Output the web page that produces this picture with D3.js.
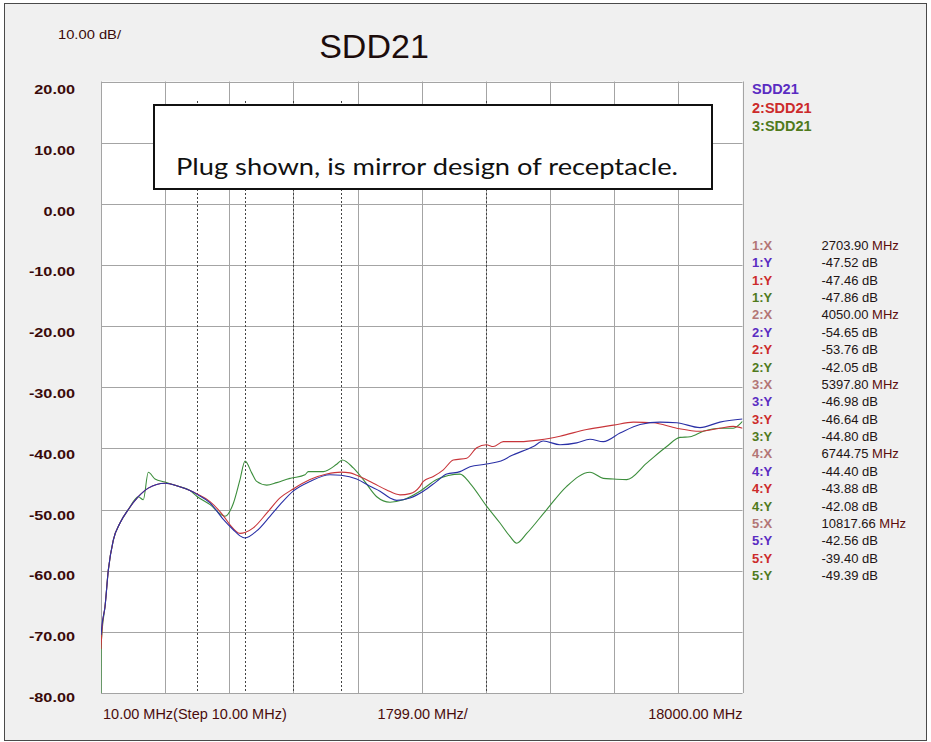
<!DOCTYPE html>
<html>
<head>
<meta charset="utf-8">
<script src="https://cdn.jsdelivr.net/npm/d3@7"></script>
<style>
  body { margin: 0; background: #fff; }
  svg { display: block; }
</style>
</head>
<body>
<svg id="chart"></svg>
<script>
// ─── Data ──────────────────────────────────────────────────────────────────
const freqTicks = [10, 1809, 3608, 5407, 7206, 9005, 10804, 12603, 14402, 16201, 18000];
const dbTicks   = [20, 10, 0, -10, -20, -30, -40, -50, -60, -70, -80];
const dbLabels  = dbTicks.map(v => v.toFixed(2));
const xLabels   = ["10.00 MHz(Step 10.00 MHz)", "1799.00 MHz/", "18000.00 MHz"];

const seriesNames = ["SDD21", "2:SDD21", "3:SDD21"];

// [MHz, dB]
const sdd21 = [
  [10,-70.5],[46,-68.5],[122,-65.9],[215,-59.9],[355,-55],[543,-52.2],[776,-50],[1056,-47.9],
  [1336,-46.5],[1805,-45.7],[2178,-46.2],[2506,-46.9],[2704,-47.52],[3067,-48.9],[3440,-51.6],
  [3720,-53.3],[3908,-54.3],[4050,-54.65],[4376,-53.5],[4749,-51.1],[5030,-49.2],[5398,-46.98],
  [5871,-45.4],[6432,-44.3],[6745,-44.40],[7181,-45.0],[7554,-46.2],[7834,-47.0],[8115,-48.1],
  [8302,-48.5],[8676,-48.1],[9049,-47.0],[9424,-45.4],[9705,-44.2],[10078,-43.8],[10358,-43.0],
  [10818,-42.56],[11292,-41.9],[11480,-41.3],[12134,-39.7],[12414,-38.8],[12882,-39.4],[13350,-39.1],
  [13723,-38.5],[14097,-38.9],[14565,-37.5],[15128,-36.1],[15686,-35.7],[16155,-35.8],[16808,-36.6],
  [17366,-35.7],[18000,-35.2]
];
const sdd21b = [
  [10,-72.8],[46,-69],[122,-65.9],[215,-59.9],[355,-55],[543,-52.2],[776,-50],[1056,-47.9],
  [1336,-46.5],[1805,-45.7],[2178,-46.2],[2506,-46.9],[2704,-47.46],[3067,-48.7],[3440,-51.0],
  [3628,-52.5],[3908,-53.9],[4050,-53.76],[4281,-53.0],[4657,-50.6],[5030,-48.1],[5398,-46.64],
  [5871,-45.1],[6339,-44.2],[6745,-43.88],[6993,-44.0],[7181,-44.4],[7647,-45.7],[8022,-46.8],
  [8395,-47.6],[8676,-47.4],[8956,-46.2],[9049,-45.4],[9329,-44.6],[9610,-43.5],[9890,-41.9],
  [10266,-41.6],[10546,-39.9],[10818,-39.40],[11011,-39.7],[11292,-38.9],[11761,-38.9],[12321,-38.6],
  [12882,-38.0],[13631,-36.9],[14378,-36.2],[14940,-35.7],[15498,-35.8],[16155,-36.7],[16808,-37.2],
  [17366,-36.7],[17740,-36.4],[18000,-36.7]
];
const sdd21c = [
  [10,-80],[14,-72.5],[46,-69.5],[122,-65.9],[215,-59.9],[355,-55],[543,-52.2],[776,-50],[1056,-47.9],
  [1196,-48.4],[1336,-43.9],[1524,-45.0],[1805,-45.5],[2178,-46.2],[2506,-46.9],[2704,-47.86],
  [3067,-49.2],[3487,-51.1],[3720,-49.0],[3908,-45.1],[4050,-42.05],[4236,-44.0],[4376,-45.4],
  [4657,-46.0],[4937,-45.6],[5310,-44.9],[5398,-44.80],[5731,-44.3],[5823,-43.8],[6244,-43.8],
  [6620,-42.6],[6780,-41.9],[7086,-43.2],[7366,-45.1],[7742,-47.9],[8115,-48.8],[8488,-48.4],
  [8956,-47.0],[9424,-45.1],[10078,-44.2],[10358,-45.7],[10818,-49.39],[11199,-52.2],[11480,-54.4],
  [11668,-55.5],[11949,-53.9],[12509,-50.0],[13070,-46.2],[13723,-43.9],[14097,-44.9],[14378,-45.0],
  [14753,-45.1],[15314,-42.4],[15874,-39.7],[16247,-38.2],[16528,-38.1],[16901,-37.2],[17366,-36.7],
  [17740,-36.7],[18000,-35.6]
];

const markerFreq = [2703.90, 4050.00, 5397.80, 6744.75, 10817.66];
const markerDb = [
  [-47.52, -47.46, -47.86],
  [-54.65, -53.76, -42.05],
  [-46.98, -46.64, -44.80],
  [-44.40, -43.88, -42.08],
  [-42.56, -39.40, -49.39]
];

const note = "Plug shown, is mirror design of receptacle.";

// ─── Layout / style ────────────────────────────────────────────────────────
const W = 931, H = 742;
const PLOT = { left: 101, right: 742.5, top: 81.5, bottom: 693 };
const TRACE_COLOR  = ["#2a30a6", "#c8353a", "#3c8e3c"];
const LEGEND_COLOR = ["#5a2cc2", "#cc2a2a", "#4f7a1c"];
const X_ROW_COLOR  = "#b37676";
const TEXT_DARK    = "#3a0a0a";
const FONT = "'Liberation Sans', Arial, sans-serif";

const x = d3.scaleLinear().domain([10, 18000]).range([PLOT.left, PLOT.right]);
const y = d3.scaleLinear().domain([-80, 20]).range([PLOT.bottom, PLOT.top]);
// the dB labels sit on a slightly tighter pitch than the grid
const yLabel = d3.scaleLinear().domain([20, -80]).range([94, 702]);

// ─── SVG ───────────────────────────────────────────────────────────────────
const svg = d3.select("#chart").attr("width", W).attr("height", H)
  .style("font-family", FONT);

svg.append("rect").attr("x", 0).attr("y", 0).attr("width", W).attr("height", H).attr("fill", "#fff");
svg.append("rect").attr("x", 4.5).attr("y", 3.5).attr("width", 922).attr("height", 737)
  .attr("fill", "#f0f0f0").attr("stroke", "#4a4a4a").attr("stroke-width", 1);

svg.append("defs").append("clipPath").attr("id", "clip")
  .append("rect").attr("x", PLOT.left).attr("y", PLOT.top)
  .attr("width", PLOT.right - PLOT.left).attr("height", PLOT.bottom - PLOT.top);

// plot background
svg.append("rect")
  .attr("x", PLOT.left).attr("y", PLOT.top)
  .attr("width", PLOT.right - PLOT.left).attr("height", PLOT.bottom - PLOT.top)
  .attr("fill", "#fff");

// ── Grid ───────────────────────────────────────────────────────────────────
const grid = svg.append("g").attr("stroke", "#a4a4a4").attr("stroke-width", 1);
grid.selectAll("line.v").data(freqTicks).join("line").attr("class", "v")
  .attr("x1", d => Math.round(x(d)) + 0.5).attr("x2", d => Math.round(x(d)) + 0.5)
  .attr("y1", PLOT.top).attr("y2", PLOT.bottom);
grid.selectAll("line.h").data(dbTicks).join("line").attr("class", "h")
  .attr("x1", PLOT.left).attr("x2", PLOT.right)
  .attr("y1", d => Math.round(y(d)) + 0.5).attr("y2", d => Math.round(y(d)) + 0.5);

// ── Marker lines ───────────────────────────────────────────────────────────
svg.append("g").selectAll("line").data(markerFreq).join("line")
  .attr("x1", d => Math.round(x(d)) + 0.5).attr("x2", d => Math.round(x(d)) + 0.5)
  .attr("y1", 101).attr("y2", PLOT.bottom)
  .attr("stroke", "#444").attr("stroke-width", 1).attr("stroke-dasharray", "2,2");

// ── Traces ─────────────────────────────────────────────────────────────────
const line = d3.line().x(d => x(d[0])).y(d => y(d[1])).curve(d3.curveMonotoneX);
svg.append("g").attr("clip-path", "url(#clip)")
  .selectAll("path").data([sdd21c, sdd21b, sdd21]).join("path")
  .attr("d", line)
  .attr("fill", "none")
  .attr("stroke", (d, i) => TRACE_COLOR[2 - i])
  .attr("stroke-width", 1.1);

// ── Y labels ───────────────────────────────────────────────────────────────
svg.append("g").selectAll("text").data(dbTicks).join("text")
  .attr("x", 75).attr("y", d => yLabel(d))
  .attr("text-anchor", "end")
  .attr("font-size", "12.5px").attr("font-weight", "700")
  .attr("fill", TEXT_DARK)
  .text((d, i) => dbLabels[i])
  .each(function () {
    const w = this.getComputedTextLength();
    this.setAttribute("textLength", (w * 1.3).toFixed(1));
    this.setAttribute("lengthAdjust", "spacingAndGlyphs");
  });

svg.append("text").attr("x", 58).attr("y", 39)
  .attr("font-size", "12.5px").attr("fill", TEXT_DARK).text("10.00 dB/")
  .each(function () {
    this.setAttribute("textLength", 63);
    this.setAttribute("lengthAdjust", "spacingAndGlyphs");
  });

// ── X labels ───────────────────────────────────────────────────────────────
const xl = svg.append("g").attr("font-size", "14.5px").attr("fill", "#4a0c0c");
xl.append("text").attr("x", x(10) + 2).attr("y", 719).text(xLabels[0]);
xl.append("text").attr("x", x(9005) + 1).attr("y", 719).attr("text-anchor", "middle").text(xLabels[1]);
xl.append("text").attr("x", x(18000)).attr("y", 719).attr("text-anchor", "end").text(xLabels[2]);

// ── Title ──────────────────────────────────────────────────────────────────
svg.append("text").attr("x", 374).attr("y", 58).attr("text-anchor", "middle")
  .attr("font-size", "34px").attr("fill", "#1c0c0c").text("SDD21");

// ── Legend ─────────────────────────────────────────────────────────────────
svg.append("g").selectAll("text").data(seriesNames).join("text")
  .attr("x", 752).attr("y", (d, i) => 94 + i * 18.7)
  .attr("font-size", "14.5px").attr("font-weight", "700")
  .attr("fill", (d, i) => LEGEND_COLOR[i])
  .text(d => d);

// ── Marker table ───────────────────────────────────────────────────────────
const rows = [];
markerFreq.forEach((f, m) => {
  rows.push({ label: `${m + 1}:X`, color: X_ROW_COLOR, num: f.toFixed(2), unit: "MHz" });
  markerDb[m].forEach((v, s) => {
    rows.push({ label: `${m + 1}:Y`, color: LEGEND_COLOR[s], num: v.toFixed(2), unit: "dB" });
  });
});

const table = svg.append("g").attr("font-size", "13px");
const rowG = table.selectAll("g").data(rows).join("g")
  .attr("transform", (d, i) => `translate(0,${250 + i * 17.37})`);
rowG.append("text").attr("x", 752).attr("font-weight", "700")
  .attr("fill", d => d.color).text(d => d.label);
const val = rowG.append("text").attr("x", 821.5).attr("fill", "#221414");
val.append("tspan").text(d => d.num + " ");
val.append("tspan").attr("fill", d => d.unit === "MHz" ? "#5c0c0c" : "#221414").text(d => d.unit);

// ── Annotation box ─────────────────────────────────────────────────────────
svg.append("rect").attr("x", 154).attr("y", 105).attr("width", 558).attr("height", 84)
  .attr("fill", "#fff").attr("stroke", "#111").attr("stroke-width", 2);
svg.append("text").attr("x", 176).attr("y", 175)
  .attr("font-family", "Lato, 'Open Sans', sans-serif").attr("font-size", "24px")
  .attr("fill", "#111")
  .attr("textLength", 502).attr("lengthAdjust", "spacingAndGlyphs")
  .text(note);
</script>
</body>
</html>
